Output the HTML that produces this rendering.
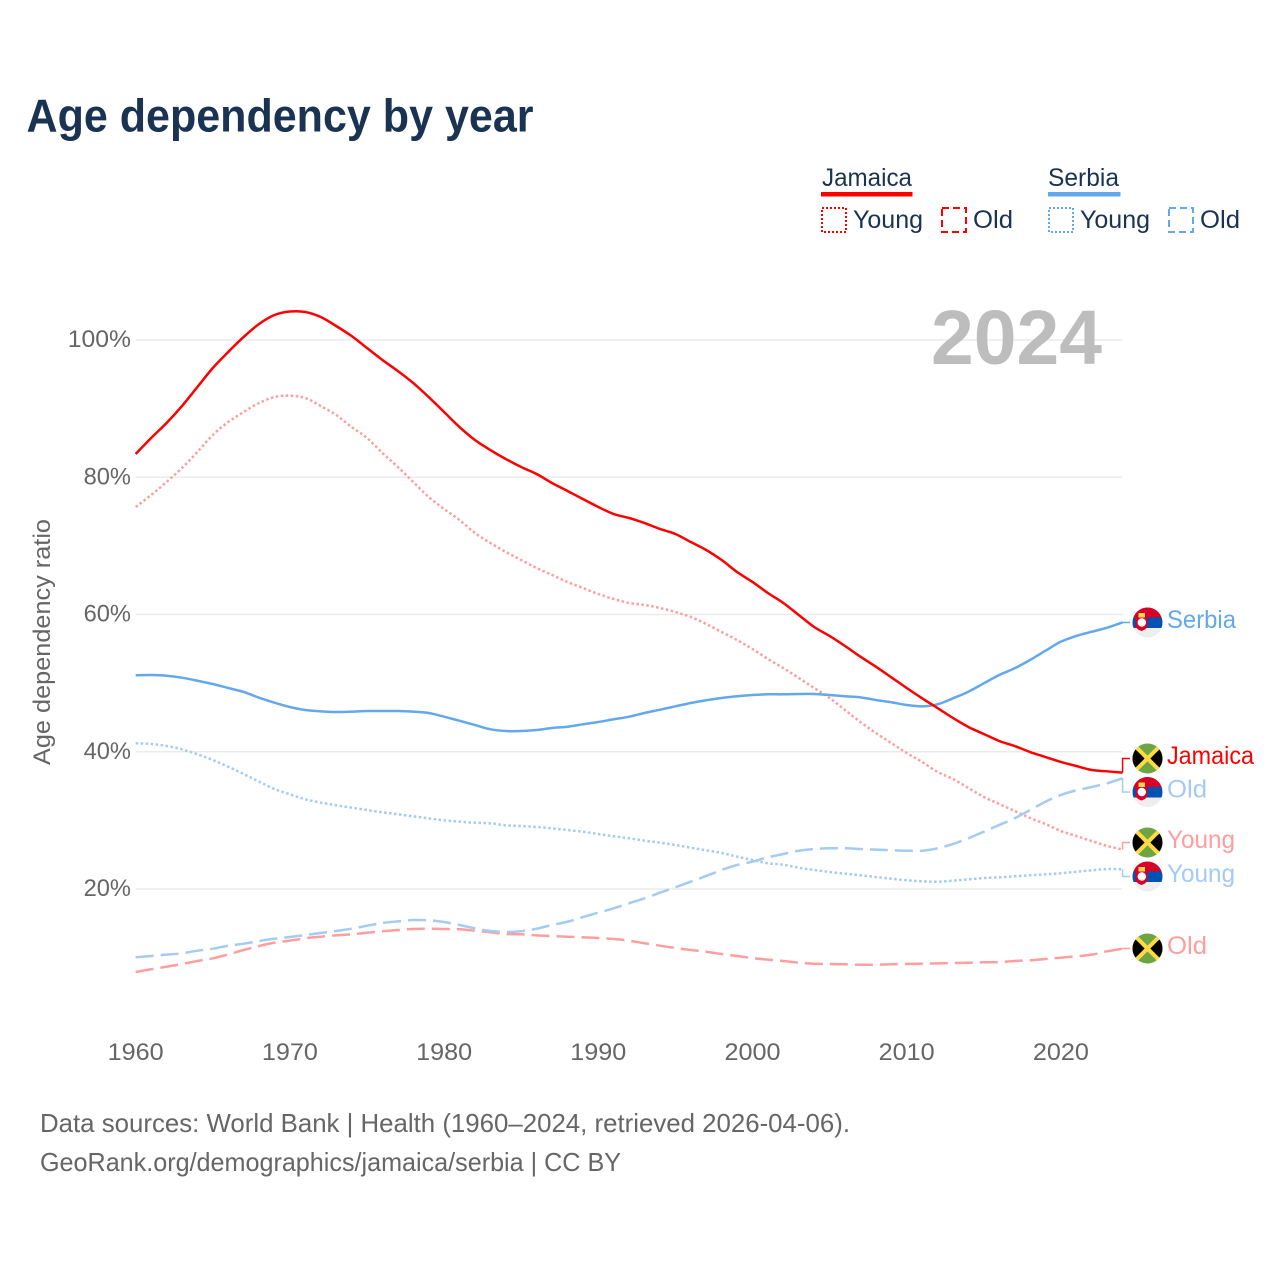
<!DOCTYPE html>
<html lang="en">
<head>
<meta charset="utf-8">
<title>Age dependency by year</title>
<style>
html,body{margin:0;padding:0;background:#fff;}
svg{display:block;font-family:"Liberation Sans",sans-serif;}
</style>
</head>
<body>
<svg id="chart" xmlns="http://www.w3.org/2000/svg" width="1280" height="1280" viewBox="0 0 1280 1280">
  <defs>
    <clipPath id="flag-clip"><circle cx="0" cy="0" r="15"></circle></clipPath>
    <g id="flag-serbia" clip-path="url(#flag-clip)">
      <rect x="-15" y="-15" width="30" height="30" fill="#eeeeee"></rect>
      <rect x="-15" y="-15" width="30" height="10" fill="#d80027"></rect>
      <rect x="-15" y="-5" width="30" height="10.5" fill="#0052b4"></rect>
      <path d="M-12,-5 h12 v8 q0,3.5 -6,5.5 q-6,-2 -6,-5.5 z" fill="#d80027"></path>
      <circle cx="-5.7" cy="0" r="4.2" fill="#ffffff"></circle>
      <rect x="-9" y="-9.500" width="6.500" height="4.500" fill="#ffda44"></rect>
    </g>
    <g id="flag-jamaica" clip-path="url(#flag-clip)">
      <rect x="-15" y="-15" width="30" height="30" fill="#6da544"></rect>
      <path d="M-15,-11 L0,0 L-15,11 Z M15,-11 L0,0 L15,11 Z" fill="#000000"></path>
      <path d="M-11,-11 L11,11 M11,-11 L-11,11" stroke="#ffda44" stroke-width="4" fill="none"></path>
    </g>
  </defs>

  <text x="26.5" y="131.5" font-size="46" font-weight="700" fill="#1a3352" textLength="507" lengthAdjust="spacingAndGlyphs">Age dependency by year</text>

  <g font-size="25" fill="#1a3352">
    <text x="822" y="186" textLength="90" lengthAdjust="spacingAndGlyphs">Jamaica</text>
    <rect x="821" y="192" width="91.500" height="4.500" fill="#ff0000"></rect>
    <rect x="822" y="208" width="24" height="24" fill="none" stroke="#ff0000" stroke-width="2" stroke-dasharray="2 2"></rect>
    <text x="853" y="228" textLength="70" lengthAdjust="spacingAndGlyphs">Young</text>
    <rect x="942" y="208" width="24" height="24" fill="none" stroke="#ff0000" stroke-width="2" stroke-dasharray="7 4"></rect>
    <text x="973" y="228" textLength="40" lengthAdjust="spacingAndGlyphs">Old</text>
    <text x="1048" y="186" textLength="71" lengthAdjust="spacingAndGlyphs">Serbia</text>
    <rect x="1048" y="192" width="72.500" height="4.500" fill="#64a8ec"></rect>
    <rect x="1049" y="208" width="24" height="24" fill="none" stroke="#64a8ec" stroke-width="2" stroke-dasharray="2 2"></rect>
    <text x="1080" y="228" textLength="70" lengthAdjust="spacingAndGlyphs">Young</text>
    <rect x="1169" y="208" width="24" height="24" fill="none" stroke="#64a8ec" stroke-width="2" stroke-dasharray="7 4"></rect>
    <text x="1200" y="228" textLength="40" lengthAdjust="spacingAndGlyphs">Old</text>
  </g>

  <g id="grid"></g>
  <g id="y-ticks"></g>
  <g id="x-ticks"></g>

  <text x="931" y="364" font-size="77" font-weight="700" fill="#bdbdbd" textLength="171" lengthAdjust="spacingAndGlyphs">2024</text>

  <text transform="translate(50,765) rotate(-90)" font-size="24" fill="#666666" textLength="246" lengthAdjust="spacingAndGlyphs">Age dependency ratio</text>

  <g id="series"></g>
  <g id="end-labels"></g>

  <text x="40" y="1132" font-size="26" fill="#666666" textLength="810" lengthAdjust="spacingAndGlyphs">Data sources: World Bank | Health (1960–2024, retrieved 2026-04-06).</text>
  <text x="40" y="1171" font-size="26" fill="#666666" textLength="581" lengthAdjust="spacingAndGlyphs">GeoRank.org/demographics/jamaica/serbia | CC BY</text>
</svg>

<script>
const startYear = 1960;
const xTickYears = [1960, 1970, 1980, 1990, 2000, 2010, 2020];
const yTickValues = [100, 80, 60, 40, 20];

const jamaicaTotal = [
  83.39,85.72,87.91,90.38,93.15,95.92,98.25,100.44,102.33,103.64,
  104.15,104.08,103.35,102.04,100.58,98.83,97.09,95.48,93.73,91.69,
  89.51,87.32,85.43,83.97,82.66,81.49,80.47,79.16,78.0,76.83,
  75.66,74.64,74.06,73.33,72.46,71.73,70.56,69.4,67.94,66.19,
  64.74,63.13,61.68,59.93,58.18,56.87,55.41,53.85,52.39,50.85,
  49.29,47.79,46.37,44.92,43.61,42.59,41.57,40.84,39.96,39.23,
  38.51,37.92,37.34,37.15,36.95];
const jamaicaYoung = [
  75.66,77.41,79.31,81.35,83.68,86.16,88.05,89.51,90.82,91.69,
  91.88,91.55,90.38,89.07,87.32,85.72,83.53,81.49,79.31,77.12,
  75.37,73.77,71.88,70.42,69.11,67.94,66.78,65.76,64.74,63.86,
  62.99,62.26,61.68,61.38,60.95,60.36,59.64,58.62,57.45,56.28,
  54.97,53.52,52.2,50.75,49.29,47.83,46.08,44.33,42.73,41.27,
  39.82,38.51,37.05,36.03,34.72,33.41,32.39,31.37,30.35,29.47,
  28.45,27.72,26.99,26.27,25.75];
const jamaicaOld = [
  7.91,8.3,8.68,9.07,9.51,9.9,10.48,11.11,11.69,12.18,
  12.47,12.82,13.05,13.25,13.4,13.63,13.84,14.03,14.17,14.22,
  14.17,14.13,13.92,13.69,13.44,13.4,13.25,13.15,13.05,12.96,
  12.86,12.71,12.47,12.09,11.74,11.4,11.11,10.86,10.53,10.24,
  9.94,9.7,9.51,9.26,9.11,9.07,9.03,8.97,8.97,9.03,
  9.07,9.11,9.17,9.22,9.26,9.32,9.36,9.51,9.61,9.8,
  9.99,10.19,10.43,10.92,11.3];
const serbiaTotal = [
  51.14,51.18,51.08,50.79,50.35,49.87,49.29,48.71,47.88,47.15,
  46.52,46.08,45.89,45.79,45.84,45.94,45.94,45.94,45.84,45.65,
  45.11,44.52,43.9,43.27,43.02,43.02,43.17,43.46,43.65,44.0,
  44.33,44.73,45.11,45.65,46.13,46.62,47.1,47.5,47.83,48.08,
  48.27,48.37,48.37,48.42,48.42,48.27,48.08,47.93,47.54,47.21,
  46.81,46.62,46.91,47.79,48.75,49.97,51.18,52.16,53.37,54.72,
  56.04,56.87,57.49,58.08,58.86];
const serbiaYoung = [
  41.23,41.13,40.84,40.36,39.63,38.8,37.82,36.76,35.64,34.57,
  33.8,33.07,32.58,32.2,31.85,31.51,31.18,30.89,30.59,30.3,
  30.01,29.81,29.66,29.57,29.28,29.18,29.03,28.84,28.6,28.35,
  28.01,27.68,27.39,27.04,26.75,26.41,26.02,25.64,25.25,24.71,
  24.23,23.75,23.54,23.1,22.77,22.48,22.23,22.0,21.75,21.5,
  21.27,21.12,21.06,21.21,21.41,21.6,21.7,21.85,22.0,22.14,
  22.29,22.52,22.72,22.91,22.87];
const serbiaOld = [
  10.05,10.24,10.43,10.63,11.01,11.3,11.74,12.03,12.42,12.76,
  13.01,13.3,13.59,13.88,14.22,14.65,15.05,15.29,15.48,15.44,
  15.19,14.75,14.27,13.88,13.73,13.84,14.22,14.75,15.23,15.92,
  16.55,17.19,17.92,18.64,19.46,20.25,21.06,21.9,22.77,23.5,
  23.98,24.62,25.1,25.58,25.83,25.93,25.93,25.83,25.73,25.64,
  25.58,25.58,25.93,26.56,27.39,28.35,29.33,30.3,31.51,32.72,
  33.7,34.38,34.86,35.4,36.13];

const NS = 'http://www.w3.org/2000/svg';
const RED = '#ff0000', RED_LIGHT = '#ff9e9e', BLUE = '#64a8ec', BLUE_LIGHT = '#a3cbf3';
const DOTTED = '2.5 2.5', DASHED = '18 7';

function xScale(year) { return 135.7 + (year - startYear) * 15.42; }
function yScale(value) { return 340 + (100 - value) * 6.8625; }

function make(tag, attrs, parent) {
  const el = document.createElementNS(NS, tag);
  for (const k in attrs) el.setAttribute(k, attrs[k]);
  parent.appendChild(el);
  return el;
}

const gridGroup = document.getElementById('grid');
const yTickGroup = document.getElementById('y-ticks');
const xTickGroup = document.getElementById('x-ticks');
const seriesGroup = document.getElementById('series');
const labelGroup = document.getElementById('end-labels');

yTickValues.forEach(function (v) {
  const line = make('line', {x1: xScale(startYear), x2: 1122, y1: yScale(v), y2: yScale(v), stroke: '#ebebeb', 'stroke-width': 1.5}, gridGroup);
  
  
  const label = String(v) + '%';
  const t = make('text', {x: 131, y: yScale(v) + 7, 'text-anchor': 'end', 'font-size': 24, fill: '#666666', textLength: label.length * 15.8, lengthAdjust: 'spacingAndGlyphs'}, yTickGroup);
  t.textContent = label;
  
  
});

xTickYears.forEach(function (year) {
  const t = make('text', {x: xScale(year), y: 1060, 'text-anchor': 'middle', 'font-size': 24, fill: '#666666', textLength: 56, lengthAdjust: 'spacingAndGlyphs'}, xTickGroup);
  t.textContent = String(year);
  
  
});

function smoothPath(values) {
  const px = values.map(function (v, i) { return [xScale(startYear + i), yScale(v)]; });
  let d = 'M' + px[0][0].toFixed(2) + ',' + px[0][1].toFixed(2);
  for (let i = 0; i < px.length - 1; i++) {
    const p0 = px[Math.max(i - 1, 0)], p1 = px[i], p2 = px[i + 1], p3 = px[Math.min(i + 2, px.length - 1)];
    const c1x = p1[0] + (p2[0] - p0[0]) / 6, c1y = p1[1] + (p2[1] - p0[1]) / 6;
    const c2x = p2[0] - (p3[0] - p1[0]) / 6, c2y = p2[1] - (p3[1] - p1[1]) / 6;
    d += 'C' + c1x.toFixed(2) + ',' + c1y.toFixed(2) + ' ' + c2x.toFixed(2) + ',' + c2y.toFixed(2) + ' ' + p2[0].toFixed(2) + ',' + p2[1].toFixed(2);
  }
  return d;
}

function drawLine(values, color, dash, name) {
  const attrs = {d: smoothPath(values), fill: 'none', stroke: color, 'stroke-width': 2.5, 'stroke-linejoin': 'round'};
  if (dash) attrs['stroke-dasharray'] = dash;
  const el = make('path', attrs, seriesGroup);
  
  
}

drawLine(jamaicaOld, RED_LIGHT, DASHED, 'line-jamaica-old');
drawLine(jamaicaYoung, RED_LIGHT, DOTTED, 'line-jamaica-young');
drawLine(serbiaOld, BLUE_LIGHT, DASHED, 'line-serbia-old');
drawLine(serbiaYoung, BLUE_LIGHT, DOTTED, 'line-serbia-young');
drawLine(serbiaTotal, BLUE, '', 'line-serbia-total');
drawLine(jamaicaTotal, RED, '', 'line-jamaica-total');

function endLabel(series, flagId, text, color, flagY, width, name) {
  const endX = xScale(startYear + series.length - 1);
  const endY = yScale(series[series.length - 1]);
  const conn = make('polyline', {points: endX + ',' + endY + ' ' + endX + ',' + flagY + ' 1130,' + flagY, fill: 'none', stroke: color, 'stroke-width': 1.5}, labelGroup);
  
  
  const flag = make('use', {href: '#' + flagId, transform: 'translate(1147.5,' + flagY + ')'}, labelGroup);
  
  
  const t = make('text', {x: 1167, y: flagY + 5.5, 'font-size': 25, fill: color, textLength: width, lengthAdjust: 'spacingAndGlyphs'}, labelGroup);
  t.textContent = text;
  
  
}

endLabel(serbiaTotal, 'flag-serbia', 'Serbia', BLUE, 622.5, 69, 'end-serbia');
endLabel(jamaicaTotal, 'flag-jamaica', 'Jamaica', RED, 758.5, 87, 'end-jamaica');
endLabel(serbiaOld, 'flag-serbia', 'Old', BLUE_LIGHT, 792, 40, 'end-serbia-old');
endLabel(jamaicaYoung, 'flag-jamaica', 'Young', RED_LIGHT, 842.5, 68, 'end-jamaica-young');
endLabel(serbiaYoung, 'flag-serbia', 'Young', BLUE_LIGHT, 876.5, 68, 'end-serbia-young');
endLabel(jamaicaOld, 'flag-jamaica', 'Old', RED_LIGHT, 948.5, 40, 'end-jamaica-old');
</script>
</body>
</html>
